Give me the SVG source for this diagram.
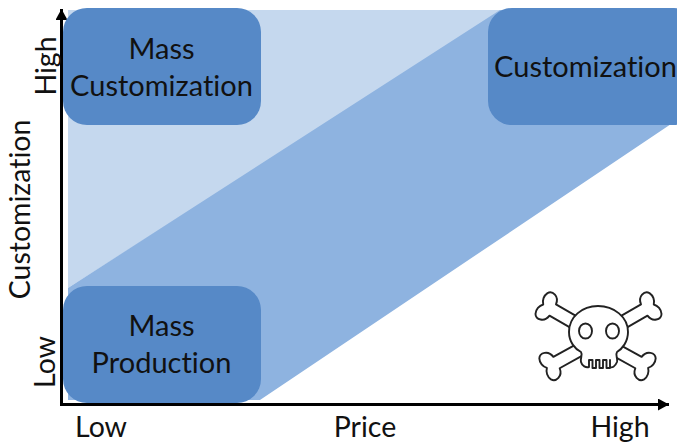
<svg xmlns="http://www.w3.org/2000/svg" width="677" height="442" viewBox="0 0 677 442">
<style>
.t{font-family:Lato,"Liberation Sans",sans-serif;font-size:29px;fill:#111;text-anchor:middle;font-variant-ligatures:none}
.a{font-size:28.500px}
.box{fill:#5689c7}
.ln{stroke:#000;stroke-width:3;fill:none}
.sk{fill:#fff;stroke:#222;stroke-width:1.900;stroke-linejoin:round}
</style>
<defs>
<marker id="ah" markerUnits="userSpaceOnUse" markerWidth="12" markerHeight="12" refX="11" refY="6" orient="auto"><path d="M0 0L11 6L0 12Z" fill="#000"/></marker>
<path id="bone" d="M0-6.500H-28C-29-15-38-17-41-12C-43-8-42-3-39 0C-42 3-43 8-41 12C-38 17-29 15-28 6.500H0Z"/>
</defs>
<g id="bands">
<path d="M68 10H505L68 288Z" fill="#c5d8ee"/>
<path d="M68 288L500 10H530V120H677L260 400H68Z" fill="#8eb3e0"/>
</g>
<g id="connectors">
<path class="ln" d="M61.500 405V9" marker-end="url(#ah)"/>
<path class="ln" d="M60 404.500H669" marker-end="url(#ah)"/>
</g>
<g id="mass-customization">
<rect class="box" x="63" y="8" width="198" height="117" rx="24"/>
<text class="t" x="161.500" y="59">Mass</text>
<text class="t" x="161.500" y="96">Customization</text>
</g>
<g id="customization">
<rect class="box" x="488" y="8" width="210" height="117" rx="24"/>
<text class="t" x="585.500" y="77">Customization</text>
</g>
<g id="mass-production">
<rect class="box" x="63" y="286" width="198" height="117" rx="24"/>
<text class="t" x="161.500" y="336">Mass</text>
<text class="t" x="161.500" y="373">Production</text>
</g>
<g id="axis-labels">
<text class="t a" transform="translate(56 66) rotate(-90)">High</text>
<text class="t a" transform="translate(55 362) rotate(-90)">Low</text>
<text class="t a" transform="translate(30 209.500) rotate(-90)">Customization</text>
<text class="t a" x="101" y="437">Low</text>
<text class="t a" x="365" y="437">Price</text>
<text class="t a" x="620" y="437">High</text>
</g>
<g id="skull">
<use href="#bone" class="sk" transform="translate(577 324) rotate(30)"/>
<use href="#bone" class="sk" transform="translate(581 349) rotate(-29)"/>
<use href="#bone" class="sk" transform="translate(620 324) rotate(150)"/>
<use href="#bone" class="sk" transform="translate(614 349) rotate(-151)"/>
<path class="sk" d="M598 306C582 306 569 317 569 332C569 342 575 349 581 352C583 355 580 358 581 362C582 366 586 368 589 367V360H592.500V368H596V360H599.500V368H603V360H606.500V368H610V360V367C612 368 615 367 617 362C618 358 615 355 617 352C622 349 628 342 628 332C628 317 614 306 598 306Z"/>
<ellipse class="sk" cx="585.500" cy="331" rx="6.500" ry="7.500"/>
<ellipse class="sk" cx="612.500" cy="331" rx="6.500" ry="7.500"/>
</g>
</svg>
